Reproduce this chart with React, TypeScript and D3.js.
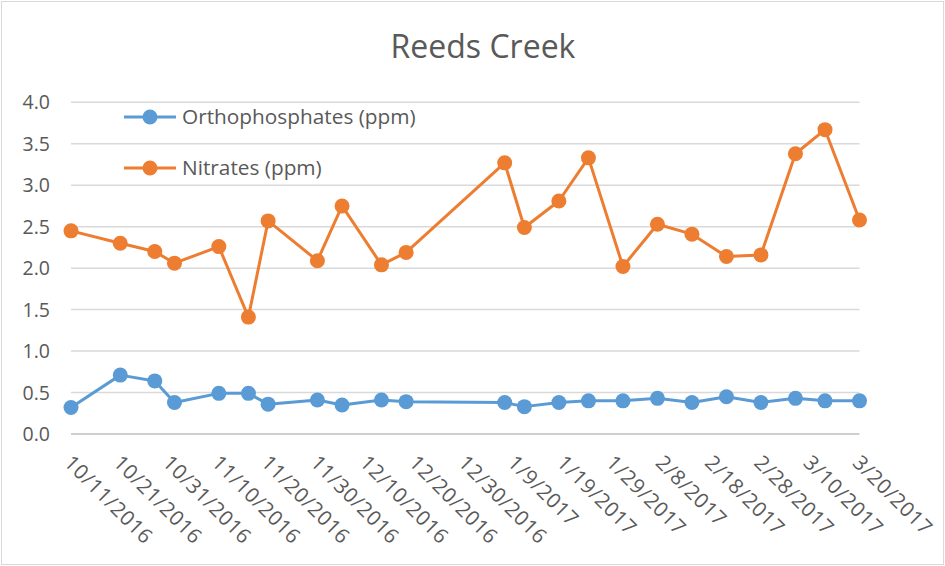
import React from "react";
import * as d3 from "d3";

const dates = ["2016-10-11","2016-10-21","2016-10-28","2016-11-01","2016-11-10","2016-11-16","2016-11-20","2016-11-30","2016-12-05","2016-12-13","2016-12-18","2017-01-07","2017-01-11","2017-01-18","2017-01-24","2017-01-31","2017-02-07","2017-02-14","2017-02-21","2017-02-28","2017-03-07","2017-03-13","2017-03-20"];
const orthophosphates = [0.32,0.71,0.64,0.38,0.49,0.49,0.36,0.41,0.35,0.41,0.39,0.38,0.33,0.38,0.40,0.40,0.43,0.38,0.45,0.38,0.43,0.40,0.40];
const nitrates = [2.45,2.30,2.20,2.06,2.26,1.41,2.57,2.09,2.75,2.04,2.19,3.27,2.49,2.81,3.33,2.02,2.53,2.41,2.14,2.16,3.38,3.67,2.58];
const yTicks = [0,0.5,1,1.5,2,2.5,3,3.5,4];
const seriesNames = ["Orthophosphates (ppm)", "Nitrates (ppm)"];
const seriesColors = ["#5B9BD5", "#ED7D31"];
const title = "Reeds Creek";

const W = 945, H = 566;
const left = 71, right = 859.5, top = 102.3, bottom = 434;
const FONT = "'Open Sans', 'Noto Sans', sans-serif";

export default function App() {
  const parse = d3.utcParse("%Y-%m-%d");
  const xDates = dates.map((d) => parse(d) as Date);
  const x = d3.scaleUtc().domain([xDates[0], xDates[xDates.length - 1]]).range([left, right]);
  const y = d3.scaleLinear().domain([0, 4]).range([bottom, top]);
  const xTicks = d3.range(0, 17).map((i) => d3.utcDay.offset(xDates[0], i * 10));
  const fmt = d3.utcFormat("%-m/%-d/%Y");
  const series = [orthophosphates, nitrates];
  const line = d3.line<[Date, number]>().x((d) => x(d[0])).y((d) => y(d[1]));

  return (
    <div style={{ position: "absolute", left: 0, top: 0 }}>
      <svg width={W} height={H} style={{ display: "block" }}>
        <rect x={0} y={0} width={W} height={H} fill="#fff" />
        <rect x={1.5} y={1.5} width={W - 3} height={H - 3} fill="none" stroke="#d9d9d9" strokeWidth={1} />
        <text x={483} y={58} textAnchor="middle" fontFamily={FONT} fontSize={32} fill="#595959">{title}</text>
        {yTicks.map((t) => (
          <g key={t}>
            {t > 0 && <line x1={left} x2={right} y1={y(t)} y2={y(t)} stroke="#d9d9d9" strokeWidth={1.5} />}
            <text x={50} y={y(t)} dy="0.36em" textAnchor="end" fontFamily={FONT} fontSize={19.5} fill="#595959">{t.toFixed(1)}</text>
          </g>
        ))}
        <line x1={left} x2={right} y1={bottom} y2={bottom} stroke="#bfbfbf" strokeWidth={1.5} />
        {xTicks.map((t, i) => (
          <text key={i} transform={`translate(${x(t) - 8},${464}) rotate(45)`} textAnchor="start" fontFamily={FONT} fontSize={20.5} letterSpacing={0.6} fill="#595959">{fmt(t)}</text>
        ))}
        {series.map((vals, si) => {
          const pts: [Date, number][] = vals.map((v, i) => [xDates[i], v]);
          return (
            <g key={si}>
              <path d={line(pts) || ""} fill="none" stroke={seriesColors[si]} strokeWidth={3} strokeLinejoin="round" />
              {pts.map((p, i) => (
                <circle key={i} cx={x(p[0])} cy={y(p[1])} r={7.5} fill={seriesColors[si]} />
              ))}
            </g>
          );
        })}
        {seriesNames.map((n, i) => {
          const ly = 117 + i * 51;
          return (
            <g key={n}>
              <line x1={124} x2={176} y1={ly} y2={ly} stroke={seriesColors[i]} strokeWidth={3} />
              <circle cx={150} cy={ly} r={7.5} fill={seriesColors[i]} />
              <text x={182} y={ly} dy="0.36em" fontFamily={FONT} fontSize={20.8} fill="#595959">{n}</text>
            </g>
          );
        })}
      </svg>
    </div>
  );
}
